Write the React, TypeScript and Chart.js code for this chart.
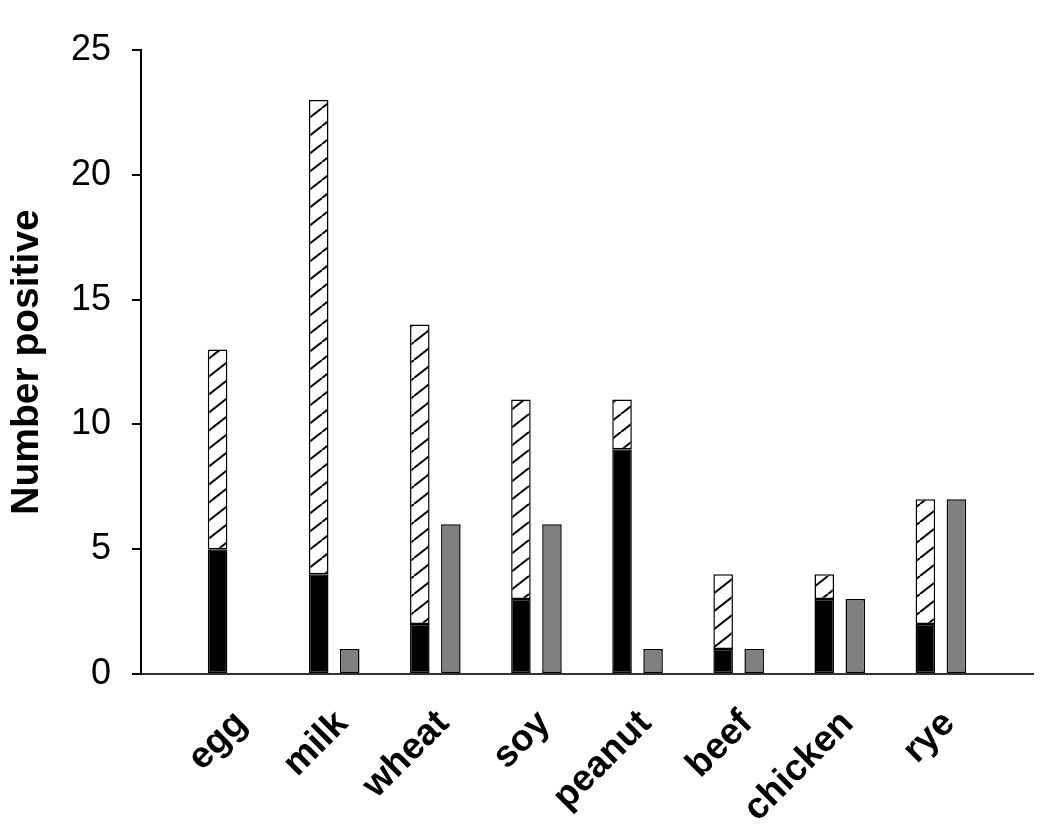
import React, { useEffect, useRef } from "react";
import { Chart, registerables } from "chart.js";

Chart.register(...registerables);

const categories = ["egg", "milk", "wheat", "soy", "peanut", "beef", "chicken", "rye"];
const blackValues = [5, 4, 2, 3, 9, 1, 3, 2];
const hatchedValues = [8, 19, 12, 8, 2, 3, 1, 5];
const grayValues: (number | null)[] = [null, 1, 6, 6, 1, 1, 3, 7];
const yTicks = [0, 5, 10, 15, 20, 25];

function makeHatch(): CanvasPattern | string {
  const W = 23;
  const H = 18;
  const c = document.createElement("canvas");
  c.width = W;
  c.height = H;
  const ctx = c.getContext("2d");
  if (!ctx) return "#fff";
  ctx.fillStyle = "#ffffff";
  ctx.fillRect(0, 0, W, H);
  ctx.strokeStyle = "#000000";
  ctx.lineWidth = 2;
  for (const dx of [-W, 0, W]) {
    ctx.beginPath();
    ctx.moveTo(dx, H);
    ctx.lineTo(dx + W, 0);
    ctx.stroke();
  }
  const p = ctx.createPattern(c, "repeat");
  return p || "#fff";
}

export default function App() {
  const ref = useRef<HTMLCanvasElement | null>(null);

  useEffect(() => {
    if (!ref.current) return;
    const hatch = makeHatch();
    const toXY = (arr: (number | null)[]) => arr.map((v, i) => ({ x: i, y: v }));
    const chart = new Chart(ref.current, {
      type: "bar",
      data: {
        datasets: [
          {
            label: "black",
            data: toXY(blackValues) as any,
            stack: "a",
            backgroundColor: "#000000",
            borderColor: "#000000",
            borderWidth: 1.5,
            borderSkipped: false,
          },
          {
            label: "hatched",
            data: toXY(hatchedValues) as any,
            stack: "a",
            backgroundColor: hatch as any,
            borderColor: "#000000",
            borderWidth: 1.5,
            borderSkipped: false,
          },
          {
            label: "gray",
            data: toXY(grayValues) as any,
            stack: "b",
            backgroundColor: "#808080",
            borderColor: "#000000",
            borderWidth: 1.5,
            borderSkipped: false,
          },
        ],
      },
      options: {
        animation: false,
        responsive: false,
        maintainAspectRatio: false,
        categoryPercentage: 0.614,
        barPercentage: 0.63,
        layout: { padding: { top: 50, right: 17, left: 0, bottom: 0 } },
        plugins: {
          legend: { display: false },
          tooltip: { enabled: false },
        },
        scales: {
          x: {
            type: "linear",
            stacked: true,
            offset: false,
            min: -0.911,
            max: 7.911,
            afterBuildTicks: (scale: any) => {
              scale.ticks = categories.map((_, i) => ({ value: i + 0.08 }));
            },
            afterFit: (scale: any) => {
              scale.height = 164;
            },
            grid: { display: false },
            border: { display: true, color: "#333333", width: 2 },
            ticks: {
              autoSkip: false,
              minRotation: 45,
              maxRotation: 45,
              padding: 20,
              color: "#000000",
              font: { family: "'Liberation Sans', Arial, sans-serif", size: 37, weight: "bold" },
              callback: (v: any) => categories[Math.round(Number(v))] ?? "",
            },
          },
          y: {
            stacked: true,
            min: 0,
            max: 25,
            afterBuildTicks: (scale: any) => {
              scale.ticks = yTicks.map((v) => ({ value: v }));
            },
            afterFit: (scale: any) => {
              scale.width = 141;
            },
            grid: {
              drawOnChartArea: false,
              drawTicks: true,
              tickLength: 9,
              color: "#000000",
              lineWidth: 2,
            },
            border: { display: true, color: "#000000", width: 2 },
            ticks: {
              padding: 21,
              color: "#000000",
              font: { family: "'Liberation Sans', Arial, sans-serif", size: 36 },
            },
            title: {
              display: true,
              text: "Number positive",
              color: "#000000",
              font: { family: "'Liberation Sans', Arial, sans-serif", size: 39, weight: "bold" },
              padding: { top: 4, bottom: 0 },
            },
          },
        },
      },
    });
    return () => chart.destroy();
  }, []);

  return (
    <div style={{ position: "absolute", left: 0, top: 0, width: 1050, height: 838, background: "#fff" }}>
      <canvas ref={ref} width={1050} height={838} style={{ display: "block", width: 1050, height: 838 }} />
    </div>
  );
}
